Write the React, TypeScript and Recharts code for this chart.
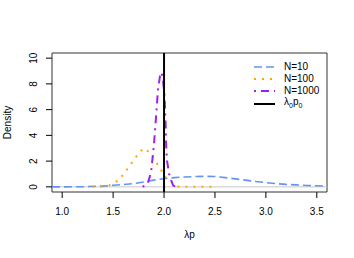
import React from "react";
import {
  LineChart,
  Line,
  XAxis,
  YAxis,
  ReferenceLine,
  ReferenceArea,
  Label,
} from "recharts";

// density estimates
const n10X = [0.9, 1.0, 1.2, 1.4, 1.5, 1.6, 1.7, 1.8, 1.9, 2.0, 2.1, 2.2, 2.3, 2.4, 2.5, 2.6, 2.7, 2.8, 2.9, 3.0, 3.1, 3.2, 3.3, 3.4, 3.5, 3.6];
const n10Y = [0, 0, 0.01, 0.06, 0.12, 0.18, 0.25, 0.38, 0.52, 0.64, 0.72, 0.77, 0.8, 0.82, 0.8, 0.72, 0.62, 0.52, 0.42, 0.33, 0.25, 0.19, 0.15, 0.11, 0.08, 0.06];

const n100X = [1.3, 1.4, 1.45, 1.5, 1.55, 1.6, 1.65, 1.7, 1.75, 1.8, 1.85, 1.9, 1.94, 1.98, 2.02, 2.08, 2.13, 2.2, 2.3, 2.4, 2.5];
const n100Y = [0, 0.02, 0.08, 0.25, 0.5, 0.95, 1.5, 2.05, 2.6, 3.0, 2.72, 2.2, 1.7, 1.2, 0.69, 0.34, 0.02, 0, 0, 0, 0];

const n1000X = [1.79, 1.84, 1.873, 1.9, 1.922, 1.94, 1.96, 1.975, 1.99, 2.005, 2.015, 2.022, 2.03, 2.05, 2.07, 2.09, 2.12, 2.15];
const n1000Y = [0, 0.26, 1.15, 3.2, 5.5, 7.5, 8.6, 8.9, 8.3, 7.0, 5.0, 3.0, 2.0, 1.0, 0.5, 0.1, 0, 0];

const trueValue = 2.0;

const xTicks = [1.0, 1.5, 2.0, 2.5, 3.0, 3.5];
const yTicks = [0, 2, 4, 6, 8, 10];

const zip = (xs: number[], ys: number[]) => xs.map((x, i) => ({ x, y: ys[i] }));

const n10 = zip(n10X, n10Y);
const n100 = zip(n100X, n100Y);
const n1000 = zip(n1000X, n1000Y);

const FONT = "'Liberation Sans', Arial, Helvetica, sans-serif";

const legendItems = [
  { label: "N=10", color: "#6495ED", dash: "8 4", width: 1.6, h: 11.7 },
  { label: "N=100", color: "#FFA500", dash: "2 6", width: 2, h: 11.7 },
  { label: "N=1000", color: "#A020F0", dash: "2 5 8 5", width: 2, h: 13.5 },
  { label: "lambda", color: "#000000", dash: undefined, width: 2, h: 13 },
];

function YTick(props: any) {
  const { x, y, payload } = props;
  return (
    <text
      x={x}
      y={y}
      transform={`rotate(-90, ${x}, ${y})`}
      textAnchor="middle"
      fontSize={10}
      fontFamily={FONT}
      fill="#000"
    >
      {payload.value}
    </text>
  );
}

function XTitle(props: any) {
  const { viewBox } = props;
  return (
    <text
      x={viewBox.x + viewBox.width / 2}
      y={viewBox.y + 45.5}
      textAnchor="middle"
      fontSize={10}
      fontFamily={FONT}
      fill="#000"
    >
      λp
    </text>
  );
}

function YTitle(props: any) {
  const { viewBox } = props;
  const x = viewBox.x + 11;
  const y = viewBox.y + viewBox.height / 2;
  return (
    <text
      x={x}
      y={y}
      transform={`rotate(-90, ${x}, ${y})`}
      textAnchor="middle"
      fontSize={10}
      fontFamily={FONT}
      fill="#000"
    >
      Density
    </text>
  );
}

function LegendBox() {
  return (
    <div
      style={{
        position: "absolute",
        left: 250,
        top: 61,
        fontFamily: FONT,
        fontSize: 10,
        color: "#000",
      }}
    >
      {legendItems.map((item) => (
        <div
          key={item.label}
          style={{ display: "flex", alignItems: "center", height: item.h }}
        >
          <svg width={34} height={10} style={{ display: "block" }}>
            <line
              x1={4}
              x2={25}
              y1={5}
              y2={5}
              stroke={item.color}
              strokeWidth={item.width}
              strokeDasharray={item.dash}
            />
          </svg>
          <span style={{ lineHeight: "12px", whiteSpace: "nowrap" }}>
            {item.label === "lambda" ? (
              <>
                λ<sub style={{ fontSize: 7 }}>0</sub>p<sub style={{ fontSize: 7 }}>0</sub>
              </>
            ) : (
              item.label
            )}
          </span>
        </div>
      ))}
    </div>
  );
}

export default function App() {
  return (
    <div style={{ position: "absolute", left: 0, top: 0, width: 354, height: 258 }}>
      <LineChart
        width={354}
        height={258}
        margin={{ top: 53, right: 27, bottom: 0, left: 0 }}
      >
        <XAxis
          type="number"
          dataKey="x"
          domain={[0.9, 3.6]}
          ticks={xTicks}
          interval={0}
          tickFormatter={(v: number) => v.toFixed(1)}
          axisLine={false}
          tickLine={{ stroke: "#000" }}
          tickSize={6}
          tickMargin={10}
          height={66}
          tick={{ fontSize: 10, fill: "#000", fontFamily: FONT }}
          allowDataOverflow
        >
          <Label content={XTitle} />
        </XAxis>
        <YAxis
          type="number"
          domain={[-0.4, 10.4]}
          ticks={yTicks}
          interval={0}
          axisLine={false}
          tickLine={{ stroke: "#000" }}
          tickSize={6}
          tickMargin={9}
          width={52}
          tick={YTick}
          allowDataOverflow
        >
          <Label content={YTitle} />
        </YAxis>
        <ReferenceLine y={0} stroke="#c8c8c8" strokeWidth={1} />
        <Line
          data={n10}
          dataKey="y"
          type="linear"
          stroke="#6495ED"
          strokeWidth={1.6}
          strokeDasharray="8 4"
          dot={false}
          isAnimationActive={false}
        />
        <Line
          data={n100}
          dataKey="y"
          type="linear"
          stroke="#FFA500"
          strokeWidth={2}
          strokeDasharray="2 6"
          dot={false}
          isAnimationActive={false}
        />
        <Line
          data={n1000}
          dataKey="y"
          type="linear"
          stroke="#A020F0"
          strokeWidth={2}
          strokeDasharray="2 5 8 5"
          dot={false}
          isAnimationActive={false}
        />
        <ReferenceLine x={trueValue} stroke="#000" strokeWidth={2} />
        <ReferenceArea
          x1={0.9}
          x2={3.6}
          y1={-0.4}
          y2={10.4}
          fill="none"
          stroke="#333"
          strokeWidth={1}
        />
      </LineChart>
      <LegendBox />
    </div>
  );
}
